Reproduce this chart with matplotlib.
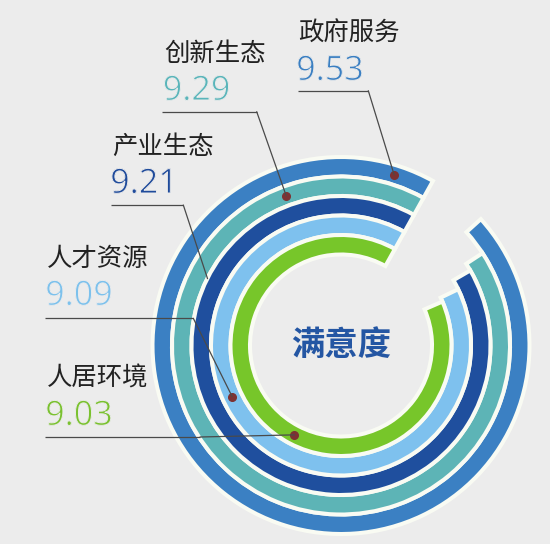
import numpy as np
import matplotlib
matplotlib.use("Agg")
import matplotlib.pyplot as plt
from matplotlib.patches import ConnectionPatch
import matplotlib.patheffects as pe

# ---- data ----
categories = ['政府服务', '创新生态', '产业生态', '人才资源', '人居环境']
scores = [9.53, 9.29, 9.21, 9.09, 9.03]
score_labels = ['9.53', '9.29', '9.21', '9.09', '9.03']
ring_colors = ['#3b80c3', '#5db4b6', '#1f4f9e', '#7ec1ee', '#77c62a']
text_colors = ['#3a7fc2', '#5ab5ba', '#1f4b9b', '#7cc1ec', '#7ac12f']
center_title = '满意度'

# ---- layout / style constants ----
W, H = 550, 544
BG = '#ececec'
CX, CY = 341.0, 345.5          # ring centre in pixels
RMAX = 190.5                   # radial axis limit (pixels)
PITCH = 19.5                   # ring pitch (pixels)
START_DEG = 60.8               # where all arcs start (deg, ccw from east)
DEG_PER_POINT = 37.4           # angular scale
SCALE_ZERO = 0.404             # score at zero arc length

# label layout (pixels, y downwards)
label_x = [297.7, 164.3, 111.7, 46.7, 46.7]
label_base = [40.5, 60.5, 153.8, 265.5, 385.5]
num_base = [80.0, 100.0, 193.0, 305.0, 425.0]
line_y = [90.7, 111.7, 205.0, 318.3, 437.0]
line_x0 = [297.7, 162.3, 111.0, 45.0, 45.0]
line_xc = [368.3, 256.7, 183.3, 193.3, 200.0]
dot_deg = [72.7, 110.1, 153.4, 205.1, 242.5]
dot_dr = [0.0, 0.0, 9.5, 0.0, 0.0]
dot_show = [True, True, False, True, True]

fig = plt.figure(figsize=(W / 100, H / 100), dpi=100, facecolor=BG)

pax = fig.add_axes([(CX - RMAX) / W, (H - CY - RMAX) / H, 2 * RMAX / W, 2 * RMAX / H],
                   projection='polar')
pax.set_theta_offset(np.deg2rad(START_DEG))
pax.set_theta_direction(1)
pax.set_rlim(0, RMAX)
pax.axis('off')

ring_r = [RMAX - 2.0 - PITCH / 2 - PITCH * i for i in range(len(scores))]
arc = np.deg2rad(DEG_PER_POINT * (np.array(scores) - SCALE_ZERO))
bars = pax.barh(ring_r, arc, left=0, height=PITCH, color=ring_colors,
                edgecolor='#f9fbf3', linewidth=2.9)
for b in bars:
    b.set_clip_on(False)

pax.text(0, 0, center_title, transform=pax.transData, ha='center', va='center',
         fontsize=24, fontweight='bold', color='#2456a3',
         family=['Noto Sans CJK SC', 'DejaVu Sans'])

ov = fig.add_axes([0, 0, 1, 1], facecolor='none')
ov.set_xlim(0, W)
ov.set_ylim(H, 0)
ov.axis('off')

thin = [pe.Normal(), pe.Stroke(linewidth=0.7, foreground=BG)]

for i, cat in enumerate(categories):
    ov.text(label_x[i], label_base[i], cat, ha='left', va='baseline',
            fontsize=18.3, color='#222222',
            family=['Noto Sans CJK SC', 'DejaVu Sans'])
    ov.text(label_x[i] - 1.5, num_base[i], score_labels[i], ha='left', va='baseline',
            fontsize=24.5, color=text_colors[i], fontweight='light',
            family=['Noto Sans', 'DejaVu Sans'], path_effects=thin)
    ov.plot([line_x0[i], line_xc[i]], [line_y[i], line_y[i]], color='#4a4a4a',
            lw=0.9, solid_capstyle='butt')
    th = np.deg2rad(dot_deg[i] - START_DEG)
    rr = ring_r[i] + dot_dr[i]
    cp = ConnectionPatch(xyA=(line_xc[i], line_y[i]), coordsA=ov.transData,
                         xyB=(th, rr), coordsB=pax.transData,
                         color='#4a4a4a', lw=0.9, zorder=6)
    fig.add_artist(cp)
    if dot_show[i]:
        pax.plot([th], [rr], 'o', color='#7d3232', ms=5.5, zorder=7,
                 clip_on=False)

fig.savefig('out.png', dpi=100, facecolor=BG)
